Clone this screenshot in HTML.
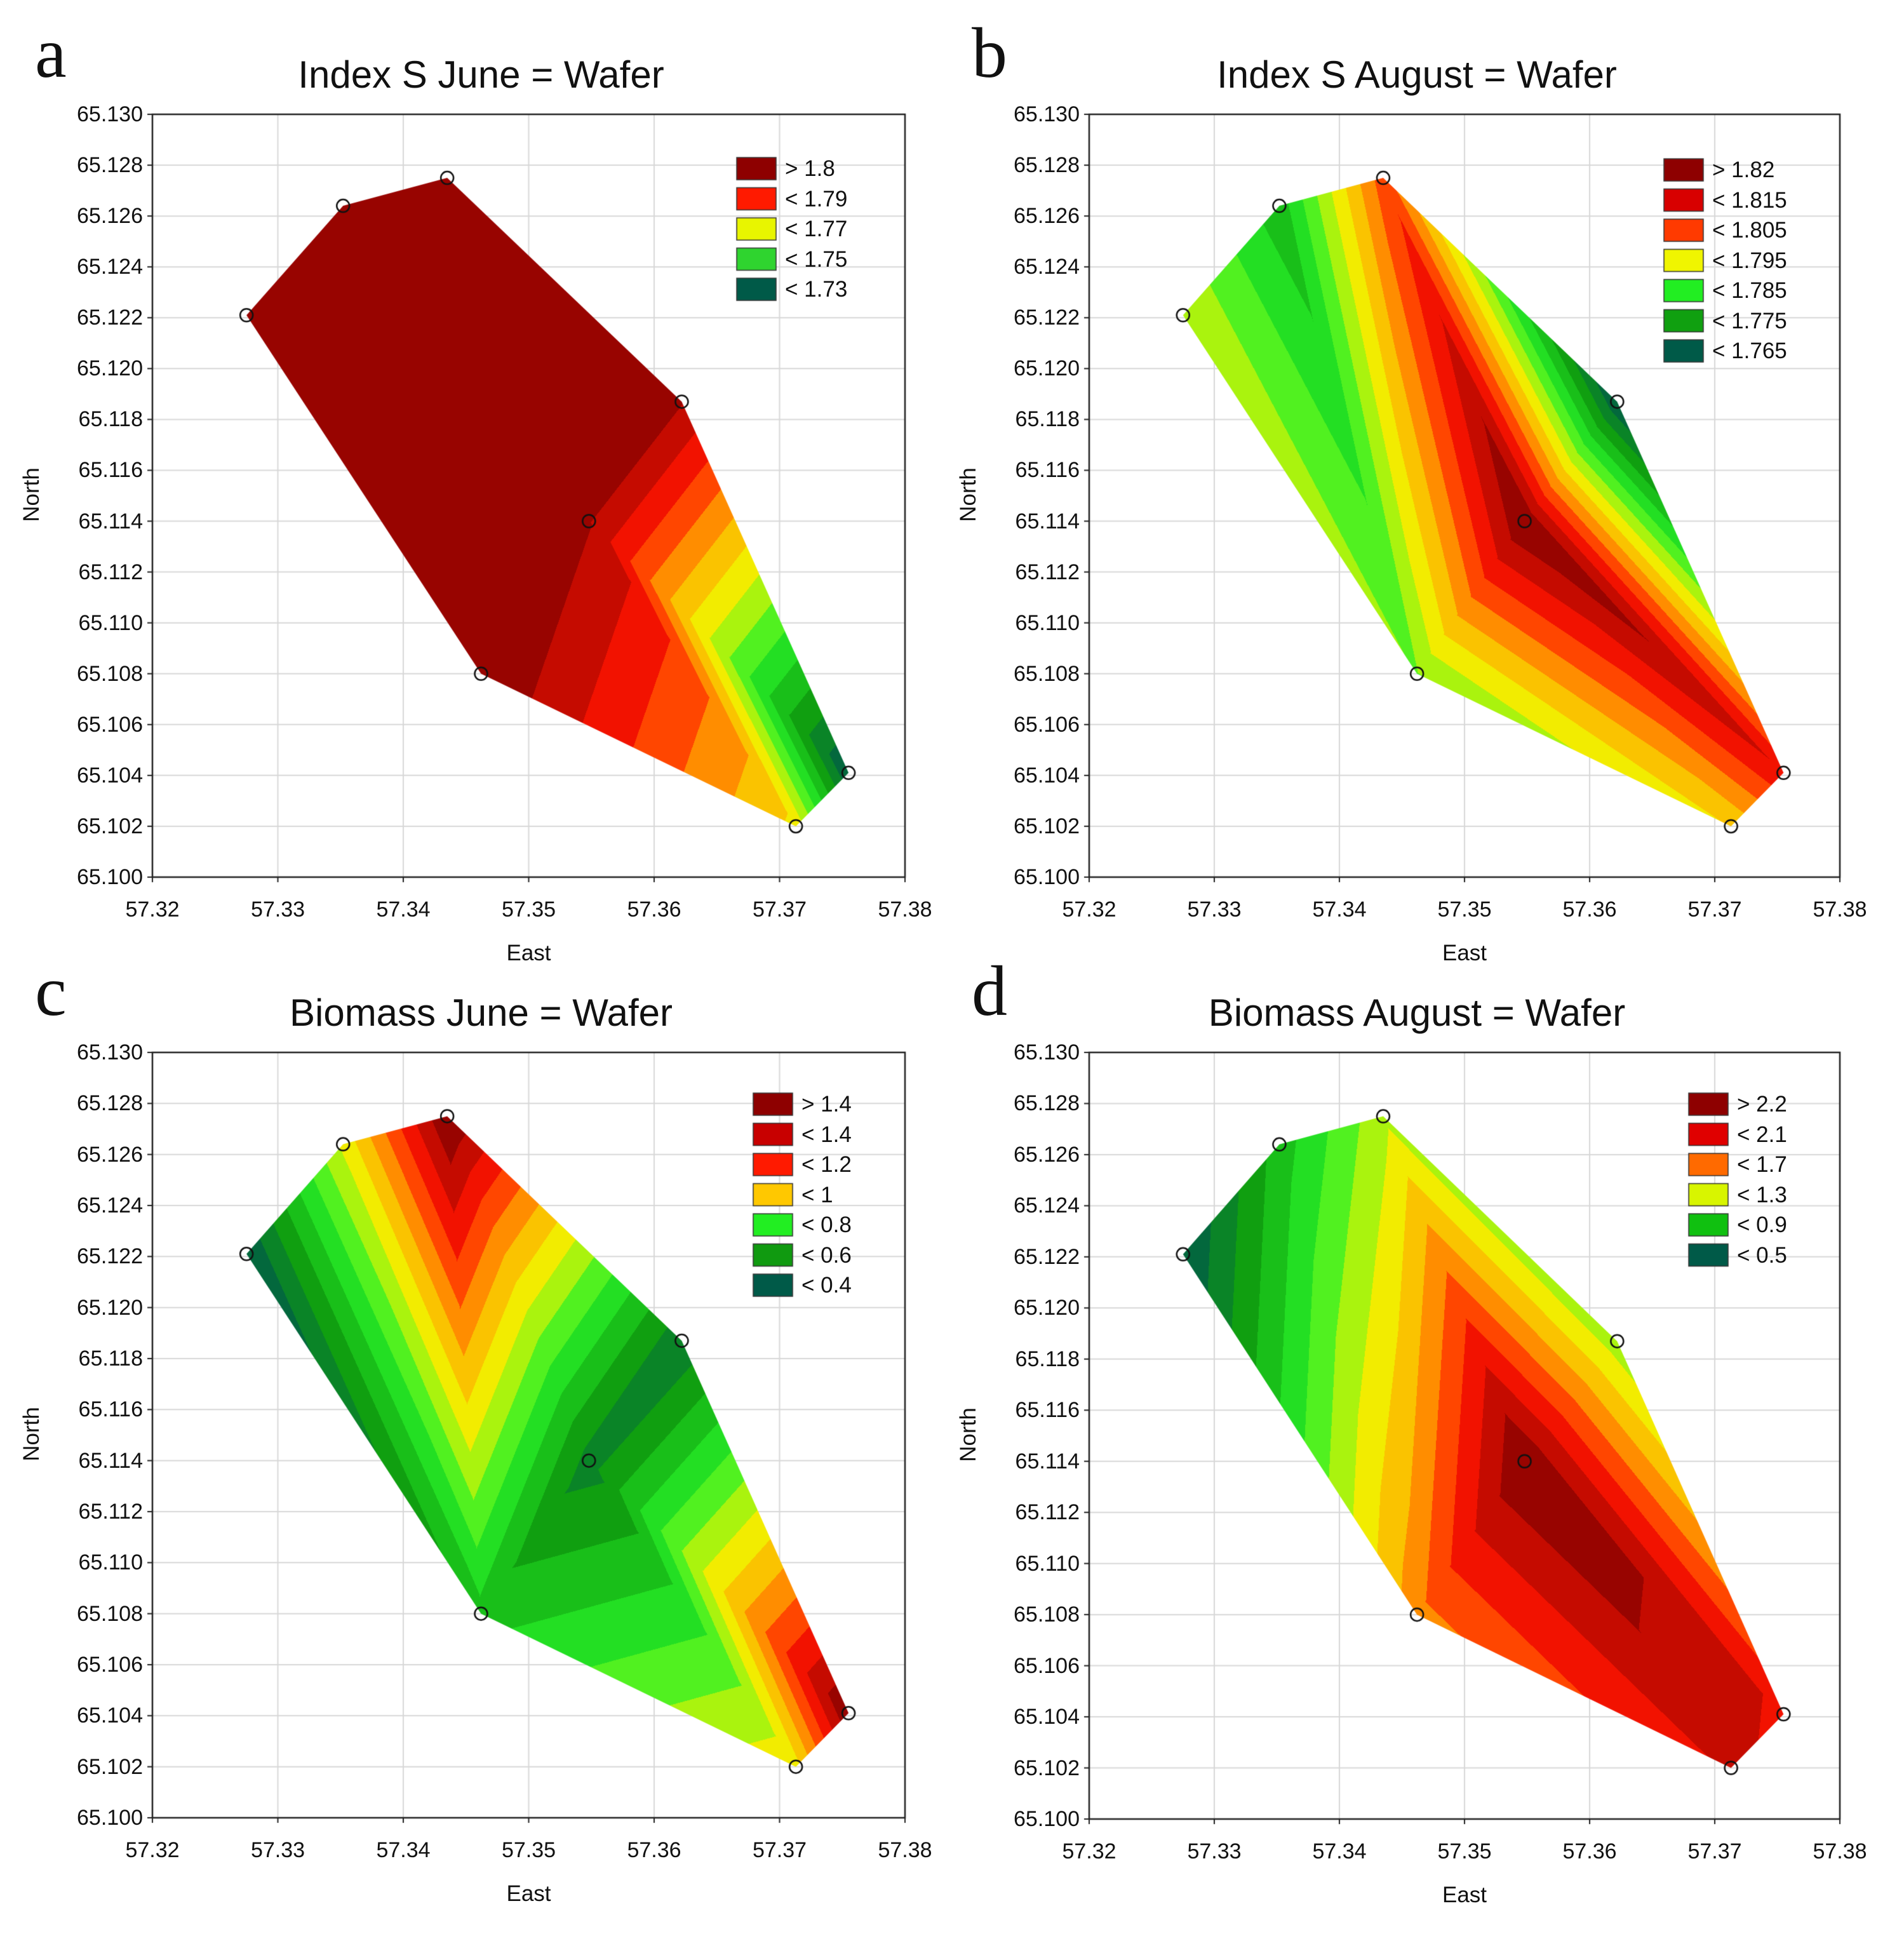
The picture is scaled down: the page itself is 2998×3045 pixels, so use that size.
<!DOCTYPE html>
<html><head><meta charset="utf-8">
<style>
body{margin:0;background:#fff;}
#root{position:relative;width:2998px;height:3045px;overflow:hidden;background:#fff;font-family:"Liberation Sans",sans-serif;}
canvas{position:absolute;left:0;top:0;}
.t{position:absolute;white-space:nowrap;color:#111;}
</style></head>
<body>
<div id="root">
<canvas id="cv" width="2998" height="3045"></canvas>
</div>
<script>
const pointEast=[57.3275,57.3352,57.3435,57.3622,57.3548,57.3462,57.3755,57.3713];
const pointNorth=[65.1221,65.1264,65.1275,65.1187,65.1140,65.1080,65.1041,65.1020];
const hullOrder=[0,1,2,3,6,7,5];
const triangles=[[0,1,5],[1,2,5],[2,4,5],[2,3,4],[3,6,4],[4,6,7],[4,7,5]];
const valuesA=[1.812,1.812,1.806,1.806,1.806,1.812,1.722,1.772];
const valuesB=[1.795,1.778,1.812,1.762,1.828,1.790,1.818,1.800];
const valuesC=[0.32,0.92,1.48,0.42,0.45,0.62,1.48,0.95];
const valuesD=[0.42,0.9,1.35,1.3,2.35,1.75,2.05,2.1];
const xTicks=[57.32,57.33,57.34,57.35,57.36,57.37,57.38];
const yTicks=[65.100,65.102,65.104,65.106,65.108,65.110,65.112,65.114,65.116,65.118,65.120,65.122,65.124,65.126,65.128,65.130];
const legendA=["> 1.8","< 1.79","< 1.77","< 1.75","< 1.73"];
const legendAColors=["#8e0000","#ff1a00","#e8f500","#2fd42f","#005a48"];
const legendB=["> 1.82","< 1.815","< 1.805","< 1.795","< 1.785","< 1.775","< 1.765"];
const legendBColors=["#8e0000","#d80000","#ff3a00","#f0f500","#22ee22","#10a010","#005a48"];
const legendC=["> 1.4","< 1.4","< 1.2","< 1","< 0.8","< 0.6","< 0.4"];
const legendCColors=["#8e0000","#c80000","#ff1a00","#ffc800","#22ee22","#109a10","#005a48"];
const legendD=["> 2.2","< 2.1","< 1.7","< 1.3","< 0.9","< 0.5"];
const legendDColors=["#8e0000","#e00000","#ff6a00","#d8f500","#10c010","#005a48"];

const panels=[
 {letter:"a",title:"Index S June = Wafer",L:240,R:1425,T:180,B:1381,vals:valuesA,leg:legendA,legC:legendAColors,lx:1160,ly:248},
 {letter:"b",title:"Index S August = Wafer",L:1715,R:2897,T:180,B:1381,vals:valuesB,leg:legendB,legC:legendBColors,lx:2620,ly:250},
 {letter:"c",title:"Biomass June = Wafer",L:240,R:1425,T:1657,B:2862,vals:valuesC,leg:legendC,legC:legendCColors,lx:1186,ly:1721},
 {letter:"d",title:"Biomass August = Wafer",L:1715,R:2897,T:1657,B:2864,vals:valuesD,leg:legendD,legC:legendDColors,lx:2659,ly:1721}
];
const cmapStops=[[0,[0,90,72]],[0.18,[16,160,16]],[0.36,[40,240,40]],[0.52,[240,245,0]],[0.65,[255,170,0]],[0.8,[255,20,0]],[1,[130,0,0]]];
function cmap(t){for(let i=1;i<cmapStops.length;i++){if(t<=cmapStops[i][0]){const a=cmapStops[i-1],b=cmapStops[i];const f=(t-a[0])/(b[0]-a[0]);return a[1].map((c,k)=>Math.round(c+(b[1][k]-c)*f));}}return cmapStops[cmapStops.length-1][1];}

const root=document.getElementById('root');
const cv=document.getElementById('cv');const ctx=cv.getContext('2d');
function txt(s,x,y,size,extra,name){const d=document.createElement('div');d.className='t';d.textContent=s;
d.style.fontSize=size+'px';d.style.left=x+'px';d.style.top=y+'px';if(extra)Object.assign(d.style,extra);


root.appendChild(d);return d;}

panels.forEach(p=>{
 const X=e=>p.L+(e-57.32)/0.06*(p.R-p.L);
 const Y=n=>p.B-(n-65.100)/0.030*(p.B-p.T);
 ctx.strokeStyle="#d8d8d8";ctx.lineWidth=2;
 xTicks.forEach(v=>{ctx.beginPath();ctx.moveTo(X(v),p.T);ctx.lineTo(X(v),p.B);ctx.stroke();});
 yTicks.forEach(v=>{ctx.beginPath();ctx.moveTo(p.L,Y(v));ctx.lineTo(p.R,Y(v));ctx.stroke();});
 const px=pointEast.map(X),py=pointNorth.map(Y);
 const W=Math.round(p.R-p.L),H=Math.round(p.B-p.T);
 const off=document.createElement('canvas');off.width=W;off.height=H;const octx=off.getContext('2d');
 const img=octx.createImageData(W,H);
 const vmin=Math.min(...p.vals),vmax=Math.max(...p.vals);const N=14;
 for(const tr of triangles){
  const [a,b,c]=tr;const x1=px[a]-p.L,y1=py[a]-p.T,x2=px[b]-p.L,y2=py[b]-p.T,x3=px[c]-p.L,y3=py[c]-p.T;
  const det=(y2-y3)*(x1-x3)+(x3-x2)*(y1-y3);
  const minx=Math.max(0,Math.floor(Math.min(x1,x2,x3))),maxx=Math.min(W-1,Math.ceil(Math.max(x1,x2,x3)));
  const miny=Math.max(0,Math.floor(Math.min(y1,y2,y3))),maxy=Math.min(H-1,Math.ceil(Math.max(y1,y2,y3)));
  for(let y=miny;y<=maxy;y++)for(let x=minx;x<=maxx;x++){
   const l1=((y2-y3)*(x-x3)+(x3-x2)*(y-y3))/det,l2=((y3-y1)*(x-x3)+(x1-x3)*(y-y3))/det,l3=1-l1-l2;
   if(l1<-0.004||l2<-0.004||l3<-0.004)continue;
   const v=l1*p.vals[a]+l2*p.vals[b]+l3*p.vals[c];
   let q=Math.floor((v-vmin)/(vmax-vmin)*N);q=Math.max(0,Math.min(N-1,q));
   const col=cmap((q+0.5)/N);const i=(y*W+x)*4;
   img.data[i]=col[0];img.data[i+1]=col[1];img.data[i+2]=col[2];img.data[i+3]=255;}
 }
 octx.putImageData(img,0,0);
 ctx.save();ctx.beginPath();hullOrder.forEach((k,i)=>{i?ctx.lineTo(px[k],py[k]):ctx.moveTo(px[k],py[k]);});ctx.closePath();ctx.clip();
 ctx.drawImage(off,p.L,p.T);ctx.restore();
 ctx.strokeStyle="#222";ctx.lineWidth=2.5;ctx.strokeRect(p.L,p.T,p.R-p.L,p.B-p.T);
 ctx.lineWidth=2;
 xTicks.forEach(v=>{ctx.beginPath();ctx.moveTo(X(v),p.B);ctx.lineTo(X(v),p.B+8);ctx.stroke();});
 yTicks.forEach(v=>{ctx.beginPath();ctx.moveTo(p.L-8,Y(v));ctx.lineTo(p.L,Y(v));ctx.stroke();});
 ctx.lineWidth=2.5;ctx.strokeStyle="#111";
 pointEast.forEach((e,i)=>{ctx.beginPath();ctx.arc(px[i],py[i],10,0,7);ctx.stroke();});
 p.leg.forEach((s,i)=>{const y=p.ly+i*47.5;ctx.fillStyle=p.legC[i];ctx.fillRect(p.lx,y,62,35);ctx.strokeStyle="#333";ctx.lineWidth=1.5;ctx.strokeRect(p.lx,y,62,35);
  txt(s,p.lx+76,y-2,35,null,'legend-entry-'+p.letter+'-'+i);});
 xTicks.forEach((v,i)=>txt(v.toFixed(2),X(v)-60,p.B+32,34,{width:'120px',textAlign:'center'},'x-tick-'+p.letter+'-'+i));
 yTicks.forEach((v,i)=>txt(v.toFixed(3),p.L-160,Y(v)-19,34,{width:'145px',textAlign:'right'},'y-tick-'+p.letter+'-'+i));
 txt("East",(p.L+p.R)/2-60,p.B+100,35,{width:'120px',textAlign:'center'},'x-axis-title-'+p.letter);
 txt("North",p.L-250,(p.T+p.B)/2-22,35,{width:'120px',textAlign:'center',transform:'rotate(-90deg)'},'y-axis-title-'+p.letter);
 txt(p.title,(p.L+p.R)/2-575,p.T-97,60,{width:'1000px',textAlign:'center'},'chart-title-'+p.letter);
 txt(p.letter,p.L-185,p.T-160,112,{fontFamily:'"Liberation Serif",serif'},'panel-letter-'+p.letter);
});
</script>
</body></html>
